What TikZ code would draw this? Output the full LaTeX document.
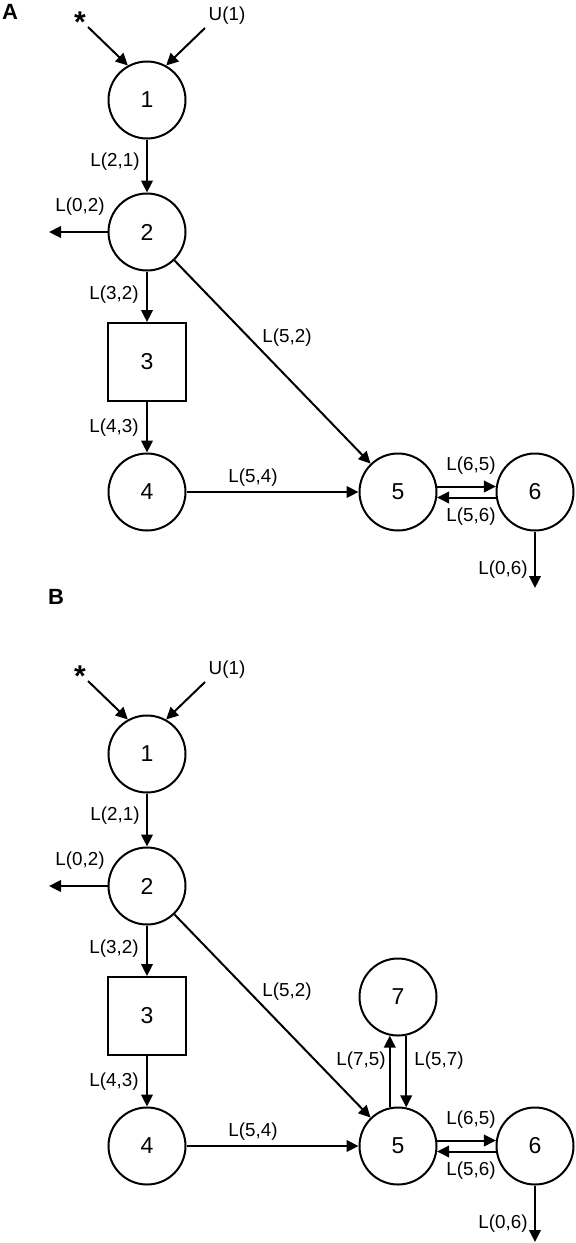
\documentclass[tikz,border=0pt]{standalone}
\usepackage{fontspec}
\setmainfont{Liberation Sans}
\usetikzlibrary{arrows.meta}
\newcommand\mypanel[1]{%
  \node[circ] (#1n1) at (147,100) {1};
  \node[circ] (#1n2) at (147,232) {2};
  \node[sq]   (#1n3) at (147,362) {3};
  \node[circ] (#1n4) at (147,492) {4};
  \node[circ] (#1n5) at (398,492) {5};
  \node[circ] (#1n6) at (535,492) {6};
  \coordinate (#1s) at (88,27);
  \coordinate (#1u) at (205,28);
  \coordinate (#1o2) at (49,232);
  \coordinate (#1o6) at (535,588);
  \node[star] (#1star) at (80,11) {*};
  \node[lbl] (#1ulab) at (227,16) {U(1)};
  \draw[arr] (#1s) -- (#1n1.119);
  \draw[arr] (#1u) -- (#1n1.61);
  \draw[arr] (#1n1) -- (#1n2);
  \draw[arr] (#1n2) -- (#1o2);
  \draw[arr] (#1n2) -- (#1n3);
  \draw[arr] (#1n3) -- (#1n4);
  \draw[arr] (#1n4) -- (#1n5);
  \draw[arr] (#1n2) -- (#1n5);
  \draw[arr] (#1n5.8) -- (#1n6.172);
  \draw[arr] (#1n6.-172) -- (#1n5.-8);
  \draw[arr] (#1n6) -- (#1o6);
  \node[lbl,anchor=east] (#1l21) at (140,162) {L(2,1)};
  \node[lbl] (#1l02) at (80,207) {L(0,2)};
  \node[lbl,anchor=east] (#1l32) at (139,295) {L(3,2)};
  \node[lbl,anchor=east] (#1l43) at (139,428) {L(4,3)};
  \node[lbl] (#1l52) at (287,338) {L(5,2)};
  \node[lbl] (#1l54) at (253,478) {L(5,4)};
  \node[lbl] (#1l65) at (471,466) {L(6,5)};
  \node[lbl] (#1l56) at (471,517) {L(5,6)};
  \node[lbl,anchor=east] (#1l06) at (528,570) {L(0,6)};
}
\begin{document}
\begin{tikzpicture}[x=0.5pt,y=-0.5pt,
  circ/.style={circle,draw,line width=1pt,minimum size=38.5pt,inner sep=0pt,font=\fontsize{11.5}{13}\selectfont},
  sq/.style={rectangle,draw,line width=1pt,minimum size=39pt,inner sep=0pt,font=\fontsize{11.5}{13}\selectfont},
  arr/.style={line width=1pt,-{Triangle[length=6pt,width=5.8pt]}},
  lbl/.style={font=\fontsize{9.4}{11}\selectfont,inner sep=0pt},
  star/.style={font=\bfseries\fontsize{15}{15}\selectfont,inner sep=0pt,anchor=north},
  plabel/.style={font=\bfseries\fontsize{11}{12}\selectfont,inner sep=0pt}]
\useasboundingbox (0,0) rectangle (576,1243);
\node[plabel] (labA) at (10,12) {A};
\node[plabel] (labB) at (56,597) {B};
\begin{scope}
  \mypanel{a}
\end{scope}
\begin{scope}[shift={(0,654)}]
  \mypanel{b}
  \node[circ] (bn7) at (398,343) {7};
  \draw[arr] (bn5.102) -- (bn7.-102);
  \draw[arr] (bn7.-78) -- (bn5.78);
  \node[lbl,anchor=east] (bl75) at (386,407) {L(7,5)};
  \node[lbl,anchor=west] (bl57) at (414,407) {L(5,7)};
\end{scope}
\end{tikzpicture}
\end{document}
